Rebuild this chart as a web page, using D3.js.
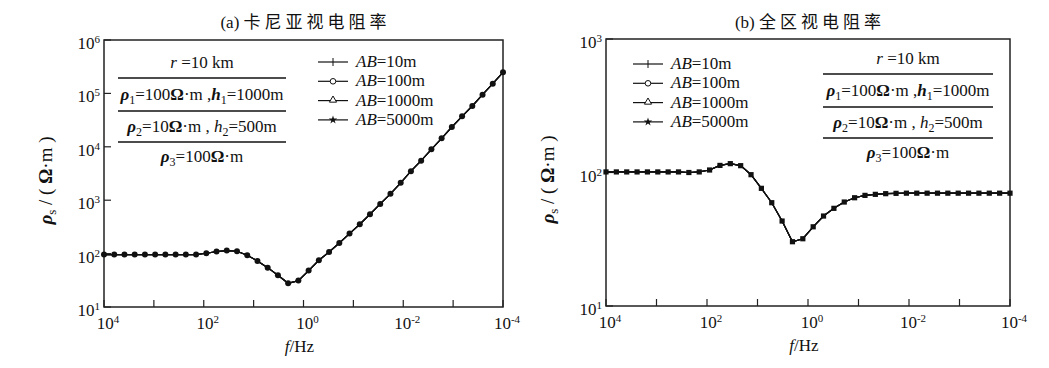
<!DOCTYPE html>
<html>
<head>
<meta charset="utf-8">
<script src="https://cdn.jsdelivr.net/npm/d3@7"></script>
<style>
  body { margin: 0; background: #fff; }
</style>
</head>
<body>
<div id="chart"></div>
<script>
// frequencies (Hz), 40 points from 10^4 down to 10^-4
var freqs = [10000, 6236, 3888, 2424, 1512, 942.8, 587.9, 366.6, 228.6, 142.5,
  88.86, 55.41, 34.55, 21.54, 13.43, 8.377, 5.223, 3.257, 2.031, 1.266,
  0.7896, 0.4924, 0.3070, 0.1914, 0.1194, 0.07443, 0.04642, 0.02894, 0.01805, 0.01125,
  0.007017, 0.004375, 0.002728, 0.001701, 0.001061, 0.0006614, 0.0004125, 0.0002572, 0.0001604, 0.0001];

// (a) Cagniard apparent resistivity
var rhoCagniard = [96, 96, 96, 96, 96, 96, 96, 96, 96, 96,
  101.5, 109, 113.8, 110.6, 93, 72.9, 54.6, 39.3, 27.8, 31.2,
  48, 75, 107, 158, 237, 355, 546, 853, 1315, 2113,
  3497, 5500, 8980, 14420, 23500, 37200, 58100, 94600, 152000, 248000];

// (b) whole-zone apparent resistivity
var rhoWhole = [101, 101, 101, 101, 101, 101, 101, 101, 100, 101,
  104.4, 113, 116.5, 112.5, 96.3, 76.1, 59.4, 43.3, 30.3, 31.9,
  39.2, 47.2, 53.9, 60.1, 64.7, 67.4, 68.6, 69.4, 69.8, 70,
  70, 70, 70, 70, 70, 70, 70, 70, 70, 70];

var abLabels = ["10m", "100m", "1000m", "5000m"];
var xTickExp = [4, 3, 2, 1, 0, -1, -2, -3, -4];

var width = 1049, height = 368;
var serif = "'Liberation Serif', 'Times New Roman', 'DejaVu Serif', serif";

var svg = d3.select("#chart").append("svg")
  .attr("width", width)
  .attr("height", height)
  .attr("font-family", serif)
  .style("font-family", serif)
  .attr("fill", "#111");

var panels = [
  {title: "(a) 卡尼亚视电阻率", x0: 104, x1: 503, y0: 40, y1: 307, ymin: 1, ymax: 6,
   rho: rhoCagniard, dot: "circle", legendX: 318, legendY: 62, noteX: 202, noteY: 63, noteW: 168},
  {title: "(b) 全区视电阻率", x0: 606, x1: 1010, y0: 39, y1: 306, ymin: 1, ymax: 3,
   rho: rhoWhole, dot: "square", legendX: 633, legendY: 64, noteX: 908, noteY: 59, noteW: 170}
];

function powLabel(sel, e) {
  sel.append("tspan").text("10");
  sel.append("tspan").attr("dy", -6).style("font-size", "11px").text(e);
}

panels.forEach(function(p) {
  var g = svg.append("g");

  var x = d3.scaleLog().domain([1e4, 1e-4]).range([p.x0, p.x1]);
  var y = d3.scaleLog().domain([Math.pow(10, p.ymin), Math.pow(10, p.ymax)]).range([p.y1, p.y0]);

  // title
  var tt = g.append("text")
    .attr("x", (p.x0 + p.x1) / 2 + 2)
    .attr("y", 28)
    .attr("text-anchor", "middle")
    .style("font-size", "17px");
  tt.append("tspan").text(p.title.slice(0, 4));
  tt.append("tspan")
    .style("font-family", "'Noto Sans CJK SC', sans-serif")
    .style("letter-spacing", "4px")
    .style("font-size", "17px")
    .text(p.title.slice(4));

  // frame
  g.append("rect")
    .attr("x", p.x0).attr("y", p.y0)
    .attr("width", p.x1 - p.x0).attr("height", p.y1 - p.y0)
    .attr("fill", "none").attr("stroke", "#222").attr("stroke-width", 1.5);

  // x ticks (inward) + labels
  xTickExp.forEach(function(e, i) {
    var xx = x(Math.pow(10, e));
    g.append("line")
      .attr("x1", xx).attr("x2", xx)
      .attr("y1", p.y1).attr("y2", p.y1 - 7)
      .attr("stroke", "#222").attr("stroke-width", 1.2);
    if (i % 2 == 0) {
      var t = g.append("text")
        .attr("x", xx + 4).attr("y", p.y1 + 22)
        .attr("text-anchor", "middle")
        .style("font-size", "17px");
      powLabel(t, e);
    }
  });

  // y ticks + labels
  for (var e = p.ymin; e <= p.ymax; e++) {
    var yy = y(Math.pow(10, e));
    g.append("line")
      .attr("x1", p.x0).attr("x2", p.x0 + 7)
      .attr("y1", yy).attr("y2", yy)
      .attr("stroke", "#222").attr("stroke-width", 1.2);
    var t = g.append("text")
      .attr("x", p.x0 - 4).attr("y", yy + 9)
      .attr("text-anchor", "end")
      .style("font-size", "17px");
    powLabel(t, e);
  }

  // axis titles
  var xl = g.append("text")
    .attr("x", (p.x0 + p.x1) / 2 - 4).attr("y", p.y1 + 45)
    .attr("text-anchor", "middle")
    .style("font-size", "17px");
  xl.append("tspan").style("font-style", "italic").text("f");
  xl.append("tspan").text("/Hz");

  var yl = g.append("text")
    .attr("transform", "translate(" + (p.x0 - 52) + "," + ((p.y0 + p.y1) / 2 + 7) + ") rotate(-90)")
    .attr("text-anchor", "middle")
    .style("font-size", "19px");
  yl.append("tspan").style("font-weight", "bold").style("font-style", "italic").text("ρ");
  yl.append("tspan").attr("dy", 4).style("font-size", "13px").text("s");
  yl.append("tspan").attr("dy", -4).text(" / ( ");
  yl.append("tspan").style("font-weight", "bold").text("Ω");
  yl.append("tspan").text("·m )");

  // curves: the four AB spacings plot on top of each other
  var line = d3.line()
    .x(function(d) { return x(d.f); })
    .y(function(d) { return y(d.r); });
  var pts = freqs.map(function(f, i) { return {f: f, r: p.rho[i]}; });

  abLabels.forEach(function(ab) {
    g.append("path")
      .datum(pts)
      .attr("d", line)
      .attr("fill", "none")
      .attr("stroke", "#111")
      .attr("stroke-width", 1.2);
  });

  if (p.dot == "circle") {
    g.selectAll(".dot").data(pts).enter().append("circle")
      .attr("cx", function(d) { return x(d.f); })
      .attr("cy", function(d) { return y(d.r); })
      .attr("r", 3)
      .attr("fill", "#111");
  } else {
    g.selectAll(".dot").data(pts).enter().append("rect")
      .attr("x", function(d) { return x(d.f) - 2.6; })
      .attr("y", function(d) { return y(d.r) - 2.6; })
      .attr("width", 5.2).attr("height", 5.2)
      .attr("fill", "#111");
  }

  // legend
  abLabels.forEach(function(ab, i) {
    var ly = p.legendY + i * 19.3;
    g.append("line")
      .attr("x1", p.legendX).attr("x2", p.legendX + 30)
      .attr("y1", ly).attr("y2", ly)
      .attr("stroke", "#111").attr("stroke-width", 1.2);
    var cx = p.legendX + 15;
    if (i == 0) {
      g.append("line").attr("x1", cx).attr("x2", cx).attr("y1", ly - 4).attr("y2", ly + 4)
        .attr("stroke", "#111").attr("stroke-width", 1);
    } else if (i == 1) {
      g.append("circle").attr("cx", cx).attr("cy", ly).attr("r", 2.8)
        .attr("fill", "#fff").attr("stroke", "#111").attr("stroke-width", 1);
    } else if (i == 2) {
      g.append("path").attr("transform", "translate(" + cx + "," + (ly - 0.5) + ")")
        .attr("d", d3.symbol().type(d3.symbolTriangle).size(22)())
        .attr("fill", "#fff").attr("stroke", "#111").attr("stroke-width", 1);
    } else {
      g.append("path").attr("transform", "translate(" + cx + "," + ly + ")")
        .attr("d", d3.symbol().type(d3.symbolStar).size(22)())
        .attr("fill", "#111");
    }
    var t = g.append("text")
      .attr("x", p.legendX + 38).attr("y", ly + 5)
      .style("font-size", "17px");
    t.append("tspan").style("font-style", "italic").text("AB");
    t.append("tspan").text("=" + ab);
  });

  // model annotation
  var nx = p.noteX, ny = p.noteY, hw = p.noteW / 2;
  var r0 = g.append("text").attr("x", nx).attr("y", ny + 5).attr("text-anchor", "middle").style("font-size", "17px");
  r0.append("tspan").style("font-style", "italic").text("r");
  r0.append("tspan").text(" =10 km");

  [15, 48, 79].forEach(function(dy) {
    g.append("line")
      .attr("x1", nx - hw).attr("x2", nx + hw)
      .attr("y1", ny + dy).attr("y2", ny + dy)
      .attr("stroke", "#111").attr("stroke-width", 1.5);
  });

  function rhoPart(t, n, val) {
    t.append("tspan").style("font-weight", "bold").style("font-style", "italic").text("ρ");
    t.append("tspan").attr("dy", 4).style("font-size", "12px").text(n);
    t.append("tspan").attr("dy", -4).text("=" + val);
    t.append("tspan").style("font-weight", "bold").text("Ω");
    t.append("tspan").text("·m");
  }

  var r1 = g.append("text").attr("x", nx).attr("y", ny + 37).attr("text-anchor", "middle").style("font-size", "17px");
  rhoPart(r1, "1", "100");
  r1.append("tspan").text(" ,");
  r1.append("tspan").style("font-weight", "bold").style("font-style", "italic").text("h");
  r1.append("tspan").attr("dy", 4).style("font-size", "12px").text("1");
  r1.append("tspan").attr("dy", -4).text("=1000m");

  var r2 = g.append("text").attr("x", nx).attr("y", ny + 69).attr("text-anchor", "middle").style("font-size", "17px");
  rhoPart(r2, "2", "10");
  r2.append("tspan").text(" ,  ");
  r2.append("tspan").style("font-style", "italic").text("h");
  r2.append("tspan").attr("dy", 4).style("font-size", "12px").text("2");
  r2.append("tspan").attr("dy", -4).text("=500m");

  var r3 = g.append("text").attr("x", nx).attr("y", ny + 99).attr("text-anchor", "middle").style("font-size", "17px");
  rhoPart(r3, "3", "100");
});
</script>
</body>
</html>
